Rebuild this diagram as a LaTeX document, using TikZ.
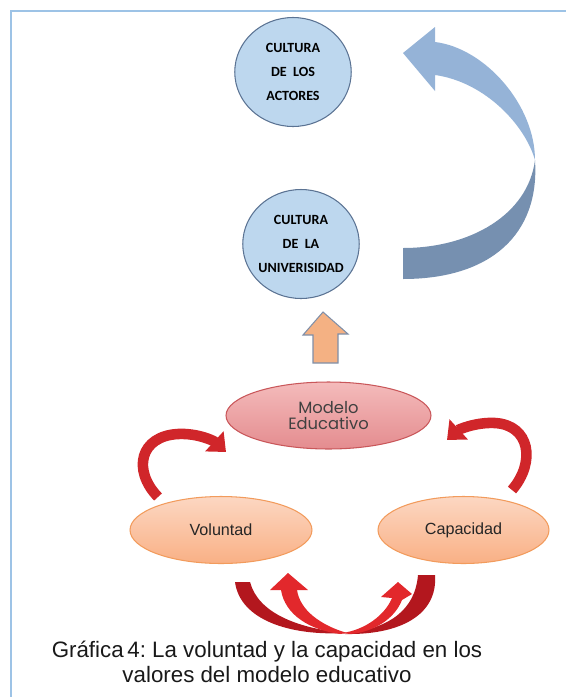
\documentclass[tikz,border=0pt]{standalone}
\usepackage{fontspec}
\setmainfont{Liberation Sans}
\newfontfamily\calib{Carlito}
\newfontfamily\gothic{Poppins}
\usepackage{tikz}
\usetikzlibrary{arrows.meta, shapes.geometric}
\frenchspacing
\definecolor{frameblue}{HTML}{9DC3E6}
\definecolor{cultfill}{HTML}{BDD7EE}
\definecolor{cultdraw}{HTML}{5B7393}
\definecolor{bluelight}{HTML}{95B3D7}
\definecolor{bluedark}{HTML}{7690B0}
\definecolor{upfill}{HTML}{F4B183}
\definecolor{updraw}{HTML}{7F8FA9}
\definecolor{modtop}{HTML}{F4BBBB}
\definecolor{modbot}{HTML}{E48C8F}
\definecolor{moddraw}{HTML}{C9575A}
\definecolor{ortop}{HTML}{FCD7C2}
\definecolor{orbot}{HTML}{F9B085}
\definecolor{ordraw}{HTML}{F29B5C}
\definecolor{redmid}{HTML}{D0262A}
\definecolor{reddark}{HTML}{B3171E}
\definecolor{redlight}{HTML}{E2282C}

\begin{document}
\begin{tikzpicture}[x=0.02cm, y=-0.02cm,
  cult/.style={ellipse, draw=cultdraw, fill=cultfill, line width=0.6pt, inner sep=0pt,
    minimum width=2.33cm, minimum height=2.18cm},
  culttext/.style={align=center, font=\calib\bfseries\fontsize{8}{13.6}\selectfont},
  model/.style={ellipse, draw=moddraw, top color=modtop, bottom color=modbot, line width=0.6pt,
    minimum width=4.1cm, minimum height=1.34cm, align=center, text=black!75,
    font=\gothic\fontsize{9.3}{9.2}\selectfont},
  valor/.style={ellipse, draw=ordraw, top color=ortop, bottom color=orbot, line width=0.6pt,
    minimum height=1.34cm, text=black!85, font=\fontsize{9.2}{10}\selectfont},
  loop/.style={redmid, line width=6pt, -{Triangle[width=15pt, length=9pt]}}]
\useasboundingbox (0,0) rectangle (566,697);
\draw[frameblue, line width=1.2pt] (11,697) -- (11,11) -- (566,11);
% Culturas
\node[cult, label={[culttext]center:CULTURA\\DE\ \ LOS\\ACTORES}] (actores) at (293,72) {};
\node[cult, label={[culttext]center:CULTURA\\DE\ \ LA\\UNIVERISIDAD}] (univ) at (301,244) {};
% blue return arrow
\fill[bluedark] (535,160) .. controls (540,235) and (490,279) .. (403,279) -- (403,248)
  .. controls (470,248) and (528,215) .. (535,160) -- cycle;
\fill[bluelight] (435,42) .. controls (485,48) and (535,105) .. (535,160)
  .. controls (525,125) and (485,82) .. (435,75) -- (435,91) -- (403,53) -- (435,27) -- cycle;
% up arrow
\draw[updraw, fill=upfill, line width=0.6pt] (313,363) -- (313,335) -- (303,335) -- (323,312)
  -- (348,334) -- (338,334) -- (338,363) -- cycle;
% Modelo
\node[model] (modelo) at (328.5,415.5) {Modelo\\Educativo};
\node[valor, minimum width=3.64cm] (vol) at (221,530) {Voluntad};
\node[valor, minimum width=3.42cm] (cap) at (463.5,530) {Capacidad};
\draw[loop] (158,497) .. controls (132,470) and (140,436) .. (178,434)
  .. controls (198,433) and (214,441) .. (226,452);
\draw[loop] (512,490) .. controls (536,462) and (530,425) .. (495,423)
  .. controls (475,422) and (458,430) .. (447,440);
% bottom swoosh
\fill[reddark] (235,582) -- (250,582) .. controls (258,612) and (295,628) .. (345,633)
  .. controls (290,636) and (240,620) .. (235,582) -- cycle;
\fill[reddark] (418,575) -- (435,575) .. controls (438,615) and (400,635) .. (345,634)
  .. controls (390,628) and (415,610) .. (418,575) -- cycle;
\fill[redlight] (347,633) .. controls (320,625) and (300,610) .. (297,590) -- (308,590)
  -- (288,573) -- (270,590) -- (281,590) .. controls (285,615) and (310,630) .. (340,634) -- cycle;
\fill[redlight] (342,633) .. controls (365,630) and (385,615) .. (392,598) -- (381,597)
  -- (398,582) -- (412,594) -- (402,600) .. controls (395,618) and (375,632) .. (350,634) -- cycle;
\node[align=center, font=\fontsize{12.7}{14.2}\selectfont, text=black!90] (caption) at (267,662)
  {Gráfica\,4: La voluntad y la capacidad en los\\valores del modelo educativo};
\end{tikzpicture}
\end{document}
